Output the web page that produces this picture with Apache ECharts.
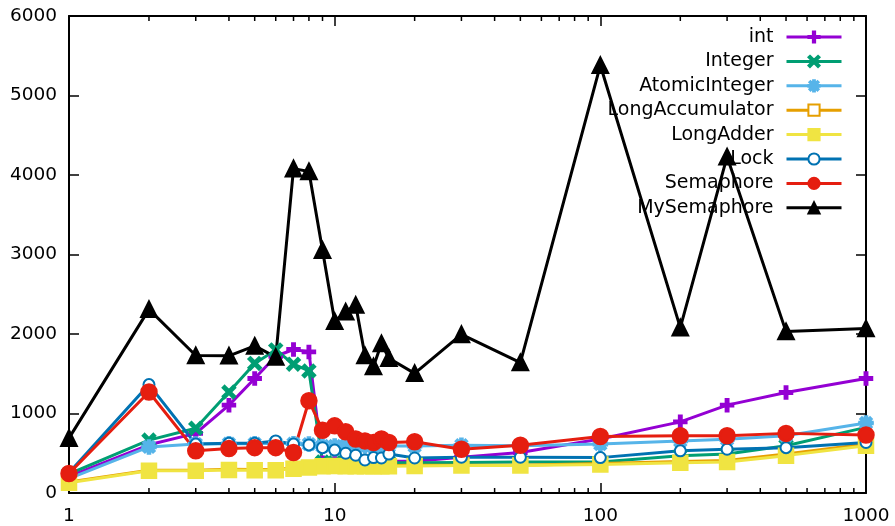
<!DOCTYPE html>
<html>
<head>
<meta charset="utf-8">
<script src="https://cdn.jsdelivr.net/npm/echarts@6/dist/echarts.min.js"></script>
<style>
  html, body { margin: 0; padding: 0; background: #fff; }
  #chart { width: 895px; height: 526px; }
</style>
</head>
<body>
<div id="chart"></div>
<script>
// x positions (threads)
const xs = [1, 2, 3, 4, 5, 6, 7, 8, 9, 10, 11, 12, 13, 14, 15, 16, 20, 30, 50, 100, 200, 300, 500, 1000];

const intVals = [210, 606, 750, 1105, 1440, 1720, 1805, 1775, 380, 370, 380, 385, 390, 395, 395, 400, 400, 450, 510, 680, 895, 1105, 1265, 1440];
const integerVals = [240, 665, 815, 1270, 1630, 1800, 1620, 1535, 390, 380, 380, 380, 380, 380, 380, 380, 380, 385, 390, 390, 470, 490, 595, 825];
const atomicVals = [180, 580, 615, 620, 620, 625, 620, 615, 590, 590, 590, 590, 590, 590, 590, 590, 590, 600, 595, 615, 655, 675, 720, 880];
const accVals = [140, 285, 285, 300, 295, 295, 315, 330, 345, 350, 345, 345, 345, 345, 345, 345, 350, 350, 350, 370, 395, 410, 490, 615];
const adderVals = [130, 280, 280, 290, 285, 285, 305, 320, 335, 340, 335, 335, 335, 335, 335, 335, 340, 345, 345, 360, 380, 390, 470, 595];
const lockVals = [255, 1364, 615, 625, 625, 655, 615, 605, 570, 540, 500, 475, 415, 445, 440, 490, 440, 450, 450, 445, 530, 550, 570, 635];
const semVals = [245, 1271, 530, 560, 570, 570, 510, 1160, 790, 845, 770, 680, 655, 635, 680, 635, 645, 550, 600, 710, 720, 720, 750, 730];
const mySemVals = [690, 2310, 1730, 1725, 1850, 1710, 4080, 4045, 3055, 2160, 2280, 2365, 1730, 1590, 1880, 1695, 1505, 1995, 1640, 5380, 2080, 4230, 2030, 2070];

// gnuplot style minor ticks on the log axis
const minorTicks = [2, 3, 4, 5, 6, 7, 8, 9, 20, 30, 40, 50, 60, 70, 80, 90, 200, 300, 400, 500, 600, 700, 800, 900];

const FONT = 'DejaVu Sans';
const plusPath = 'path://M4,0H6V4H10V6H6V10H4V6H0V4H4Z';
const crossPath = 'path://M1.4,0L5,3.6L8.6,0L10,1.4L6.4,5L10,8.6L8.6,10L5,6.4L1.4,10L0,8.6L3.6,5L0,1.4Z';
const starPath = 'path://M4.2,0H5.8V3.1L8.1,0.8L9.2,1.9L6.9,4.2H10V5.8H6.9L9.2,8.1L8.1,9.2L5.8,6.9V10H4.2V6.9L1.9,9.2L0.8,8.1L3.1,5.8H0V4.2H3.1L0.8,1.9L1.9,0.8L4.2,3.1Z';

function mk(name, vals, color, symbol, size) {
  return {
    name: name,
    type: 'line',
    data: xs.map((x, i) => [x, vals[i]]),
    symbol: symbol,
    symbolSize: size,
    lineStyle: { color: color, width: 3 },
    itemStyle: { color: color, borderColor: color, borderWidth: 2.5 },
    emphasis: { disabled: true }
  };
}

const series = [
  mk('int', intVals, '#9400d3', plusPath, 12),
  mk('Integer', integerVals, '#009e73', crossPath, 12),
  mk('AtomicInteger', atomicVals, '#56b4e9', starPath, 13),
  mk('LongAccumulator', accVals, '#e69f00', 'emptyRect', 11),
  mk('LongAdder', adderVals, '#f0e442', 'rect', 14),
  mk('Lock', lockVals, '#0072b2', 'emptyCircle', 11),
  mk('Semaphore', semVals, '#e51e10', 'circle', 15),
  mk('MySemaphore', mySemVals, '#000000', 'triangle', 15),
  {
    type: 'custom',
    silent: true,
    clip: false,
    z: 5,
    data: minorTicks.map(v => [v, 0]),
    renderItem: function (params, api) {
      const b = api.coord([api.value(0), 0]);
      const t = api.coord([api.value(0), 6000]);
      return {
        type: 'group',
        children: [
          { type: 'line', shape: { x1: b[0], y1: b[1], x2: b[0], y2: b[1] - 5 }, style: { stroke: '#000', lineWidth: 1.5 } },
          { type: 'line', shape: { x1: t[0], y1: t[1], x2: t[0], y2: t[1] + 5 }, style: { stroke: '#000', lineWidth: 1.5 } }
        ]
      };
    }
  }
];

const chart = echarts.init(document.getElementById('chart'));
const axisLine = { show: true, onZero: false, lineStyle: { color: '#000', width: 2 } };
const axisTick = { show: true, inside: true, length: 10, lineStyle: { color: '#000', width: 1.5 } };

chart.setOption({
  animation: false,
  backgroundColor: '#fff',
  grid: { left: 69, right: 29, top: 16, bottom: 32 },
  legend: {
    data: ['int', 'Integer', 'AtomicInteger', 'LongAccumulator', 'LongAdder', 'Lock', 'Semaphore', 'MySemaphore'],
    orient: 'vertical',
    align: 'right',
    right: 52,
    top: 27,
    padding: 0,
    itemWidth: 55,
    itemHeight: 14,
    itemGap: 4.4,
    selectedMode: false,
    lineStyle: { width: 3 },
    textStyle: { fontFamily: FONT, fontSize: 19, color: '#000', lineHeight: 20, padding: [0, 8, 0, 0] }
  },
  xAxis: [
    {
      type: 'log',
      logBase: 10,
      min: 1,
      max: 1000,
      axisLine: axisLine,
      axisTick: axisTick,
      splitLine: { show: false },
      axisLabel: { fontFamily: FONT, fontSize: 18.5, color: '#000', margin: 14, formatter: v => String(v) }
    },
    {
      type: 'log',
      logBase: 10,
      min: 1,
      max: 1000,
      position: 'top',
      axisLine: axisLine,
      axisTick: axisTick,
      splitLine: { show: false },
      axisLabel: { show: false }
    }
  ],
  yAxis: [
    {
      type: 'value',
      min: 0,
      max: 6000,
      interval: 1000,
      axisLine: axisLine,
      axisTick: axisTick,
      splitLine: { show: false },
      axisLabel: { fontFamily: FONT, fontSize: 18.5, color: '#000', margin: 12, formatter: v => String(v) }
    },
    {
      type: 'value',
      min: 0,
      max: 6000,
      interval: 1000,
      position: 'right',
      axisLine: axisLine,
      axisTick: axisTick,
      splitLine: { show: false },
      axisLabel: { show: false }
    }
  ],
  series: series
});
window.addEventListener('resize', function () {
  chart.resize();
});
</script>
</body>
</html>
